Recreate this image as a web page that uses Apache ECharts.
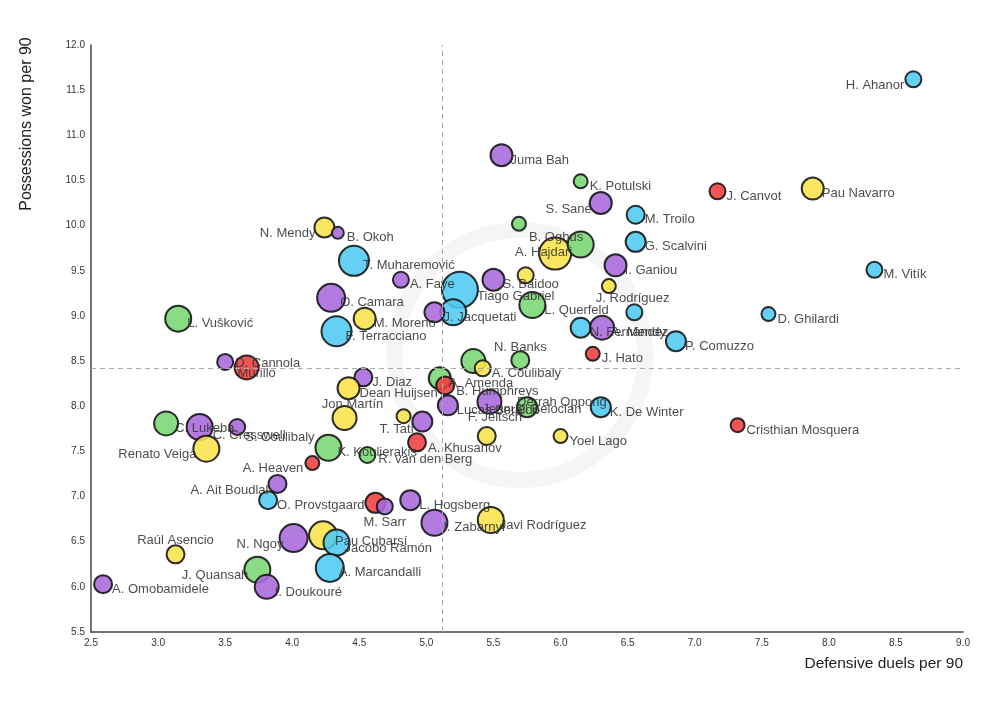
<!DOCTYPE html>
<html>
<head>
<meta charset="utf-8">
<script src="https://cdn.jsdelivr.net/npm/echarts@6/dist/echarts.min.js"></script>
<style>
html, body { margin: 0; padding: 0; background: #fff; }
#chart { width: 1000px; height: 701px; }
</style>
</head>
<body>
<div id="chart"></div>
<script>
// players (empty name = label not visible in the picture)
let names = [
  'H. Ahanor','Juma Bah','K. Potulski','J. Canvot','Pau Navarro','S. Sané','M. Troilo','B. Ogbus','N. Mendy','B. Okoh',
  'G. Scalvini','A. Hajdari','','T. Muharemović','I. Ganiou','M. Vitík','A. Faye','','S. Baidoo','Tiago Gabriel',
  'J. Rodríguez','O. Camara','L. Querfeld','','J. Jacquetati','M. Moreno','D. Ghilardi','','L. Vušković','F. Terracciano',
  'N. Fernández','A. Mendy','P. Comuzzo','','N. Banks','A. Coulibaly','J. Hato','D. Cannola','Murillo','J. Diaz',
  'Dean Huijsen','A. Amenda','B. Humphreys','Jon Martín','Lucas Beraldo','Jeanuël Belocian','Derrah Oppong','K. De Winter','T. Tati','',
  'Cristhian Mosquera','C. Lukeba','C. Cresswell','S. Coulibaly','Renato Veiga','K. Koulierakis','R. van den Berg','A. Khusanov','F. Jeltsch','Yoel Lago',
  'A. Heaven','A. Ait Boudlal','O. Provstgaard','','M. Sarr','L. Hogsberg','I. Zabarnyi','Javi Rodríguez','N. Ngoy','Pau Cubarsí',
  'Jacobo Ramón','A. Marcandalli','J. Quansah','I. Doukouré','Raúl Asencio','A. Omobamidele'
];
let duels = [ // x: defensive duels per 90
  8.63,5.56,6.15,7.17,7.88,6.30,6.56,5.69,4.24,4.34,
  6.56,5.96,6.15,4.46,6.41,8.34,4.81,5.74,5.50,5.25,
  6.36,4.29,5.79,5.20,5.06,4.54,7.55,6.55,3.15,4.33,
  6.15,6.31,6.86,5.35,5.70,5.42,6.24,3.50,3.66,4.53,
  4.42,5.10,5.14,4.39,5.16,5.47,5.75,6.30,4.83,4.97,
  7.32,3.06,3.31,3.59,3.36,4.27,4.56,4.93,5.45,6.00,
  4.15,3.89,3.82,4.62,4.69,4.88,5.06,5.48,4.01,4.23,
  4.33,4.28,3.74,3.81,3.13,2.59
];
let possWon = [ // y: possessions won per 90
  11.62,10.78,10.49,10.38,10.41,10.25,10.12,10.02,9.98,9.92,
  9.82,9.69,9.79,9.61,9.56,9.51,9.40,9.45,9.40,9.29,
  9.33,9.20,9.12,9.04,9.04,8.97,9.02,9.04,8.97,8.83,
  8.87,8.87,8.72,8.50,8.51,8.42,8.58,8.49,8.43,8.32,
  8.20,8.31,8.23,7.87,8.01,8.05,7.99,7.99,7.89,7.83,
  7.79,7.81,7.77,7.77,7.53,7.54,7.46,7.60,7.67,7.67,
  7.37,7.14,6.96,6.93,6.89,6.96,6.71,6.74,6.54,6.57,
  6.49,6.21,6.19,6.00,6.36,6.03
];
let weight = [ // bubble value
  3,6,2,3,6,6,4,2,5,1,
  5,11,8,10,6,3,3,3,6,13,
  2,9,8,8,5,6,2,3,8,10,
  5,7,5,7,4,3,2,3,7,4,
  6,6,4,7,5,7,5,5,2,5,
  2,7,8,3,8,8,3,4,4,2,
  2,4,4,5,3,5,8,8,9,9,
  8,9,8,7,4,4
];
let group = [ // colour group
  'b','p','g','r','y','p','b','g','y','p',
  'b','y','g','b','p','b','p','y','p','b',
  'y','p','g','b','p','y','b','b','g','b',
  'b','p','b','g','g','y','r','p','r','p',
  'y','g','r','y','p','p','g','b','y','p',
  'r','g','p','p','y','g','g','r','y','y',
  'r','p','b','r','p','p','p','y','p','y',
  'b','b','g','p','y','p'
];
let avgDuels = 5.12;
let avgPoss = 8.42;

let colors = { p: '#a968dc', b: '#4dcaf3', g: '#79d673', y: '#fbe34c', r: '#ef3d3d' };

// label placement tweaks: [align, dx, dy]
let labelPos = {
  'H. Ahanor': ['right',-9,6], 'N. Mendy': ['right',-9,6], 'S. Sané': ['right',-9,6],
  'A. Hajdari': ['right',17,-1], 'Renato Veiga': ['right',-10,6], 'A. Heaven': ['right',-9,5],
  'A. Ait Boudlal': ['right',-9,7], 'J. Quansah': ['right',-9,6], 'N. Ngoy': ['right',-10,6],
  'Raúl Asencio': ['center',0,-14], 'Jon Martín': ['center',8,-14], 'N. Banks': ['center',0,-13],
  'J. Rodríguez': ['left',-13,12], 'M. Sarr': ['center',0,16], 'T. Tati': ['center',-7,13],
  'B. Ogbus': ['left',10,14], 'Tiago Gabriel': ['left',17,7], 'Murillo': ['center',10,6],
  'D. Cannola': ['left',10,1], 'C. Cresswell': ['left',13,8], 'Derrah Oppong': ['left',-10,-5],
  'F. Jeltsch': ['left',-19,-19], 'Jeanuël Belocian': ['left',-7,8], 'Dean Huijsen': ['left',11,5],
  'L. Querfeld': ['left',12,5], 'B. Humphreys': ['left',11,6], 'A. Khusanov': ['left',11,6],
  'R. van den Berg': ['left',11,4], 'Pau Cubarsí': ['left',12,6], 'Jacobo Ramón': ['left',8,6],
  'S. Coulibaly': ['left',8,10], 'I. Doukouré': ['left',8,6]
};

let points = [];
for (let i = 0; i < names.length; i++) {
  let lp = labelPos[names[i]] || ['left', 9, 5];
  points.push({
    name: names[i],
    value: [duels[i], possWon[i], weight[i]],
    itemStyle: { color: colors[group[i]] },
    label: { align: lp[0], offset: [lp[1], lp[2]] }
  });
}

let myChart = echarts.init(document.getElementById('chart'));
let option = {
  backgroundColor: '#fff',
  animation: false,
  textStyle: { fontFamily: 'Liberation Sans, Arial, sans-serif' },
  grid: { left: 91, right: 37, top: 45, bottom: 69 },
  graphic: [
    { type: 'circle', shape: { cx: 520, cy: 355, r: 125 }, style: { fill: 'none', stroke: '#f5f5f5', lineWidth: 16 }, z: -10 },
    { type: 'text', x: 963, y: 656, style: { text: 'Defensive duels per 90', fill: '#222', fontSize: 15.5, fontFamily: 'Liberation Sans', textAlign: 'right' } },
    { type: 'text', x: 27, y: 124, rotation: Math.PI / 2, style: { text: 'Possessions won per 90', fill: '#222', fontSize: 16, fontFamily: 'Liberation Sans', textAlign: 'center', textVerticalAlign: 'middle' } }
  ],
  xAxis: {
    type: 'value', min: 2.5, max: 9, interval: 0.5,
    axisLine: { onZero: false, lineStyle: { color: '#444', width: 1.5 } },
    axisTick: { show: false },
    splitLine: { show: false },
    axisLabel: { color: '#333', fontSize: 10, margin: 6, formatter: function (v) { return v.toFixed(1); } }
  },
  yAxis: {
    type: 'value', min: 5.5, max: 12, interval: 0.5,
    axisLine: { show: true, onZero: false, lineStyle: { color: '#444', width: 1.5 } },
    axisTick: { show: false },
    splitLine: { show: false },
    axisLabel: { color: '#333', fontSize: 10, margin: 6, formatter: function (v) { return v.toFixed(1); } }
  },
  series: [{
    type: 'scatter',
    data: points,
    symbolSize: function (v) { return 2 * v[2] + 10; },
    itemStyle: { borderColor: '#111', borderWidth: 2, opacity: 0.88 },
    label: {
      show: true,
      position: 'inside',
      verticalAlign: 'middle',
      formatter: '{b}',
      color: '#333',
      fontSize: 13,
      fontFamily: 'Liberation Sans'
    },
    markLine: {
      silent: true,
      symbol: 'none',
      label: { show: false },
      lineStyle: { color: '#aaa', type: [5, 4], width: 1 },
      data: [{ xAxis: avgDuels }, { yAxis: avgPoss }]
    }
  }]
};
myChart.setOption(option);
</script>
</body>
</html>
